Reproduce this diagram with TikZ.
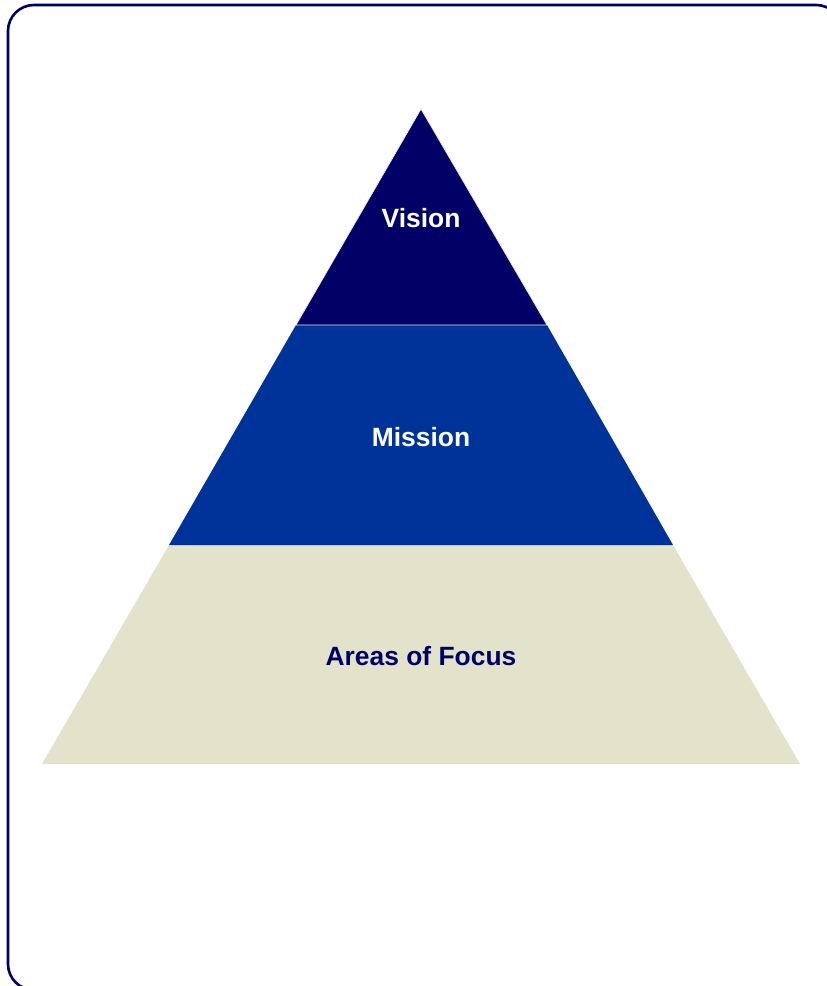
\documentclass[tikz,border=0pt]{standalone}
\usepackage{fontspec}
\setmainfont{Liberation Sans}
\usepackage{tikz}
\definecolor{navy}{RGB}{0,0,102}
\definecolor{royal}{RGB}{0,51,153}
\definecolor{sand}{RGB}{227,227,203}
\tikzset{tierlabel/.style={font=\bfseries\fontsize{26.5}{30}\selectfont, text=white}}

\begin{document}
\begin{tikzpicture}[x=1bp, y=-1bp]

\useasboundingbox (0,0) rectangle (827,986);
\clip (0,0) rectangle (827,986);

\draw[draw=navy, line width=2.6bp, rounded corners=26bp] (8,5) rectangle (842,990);

\fill[sand] (169,545) -- (673,545) -- (800,764) -- (42,764) -- cycle;

\fill[royal] (296,325) -- (547,325) -- (673,545) -- (169,545) -- cycle;

\draw[draw=white!85!gray, line width=0.7bp, fill=navy] (421,109) -- (547,325) -- (296,325) -- cycle;

\node[tierlabel] (vision) at (421,218) {Vision};
\node[tierlabel] (mission) at (421,437) {Mission};
\node[tierlabel, text=navy] (focus) at (421,656) {Areas of Focus};

\end{tikzpicture}
\end{document}
